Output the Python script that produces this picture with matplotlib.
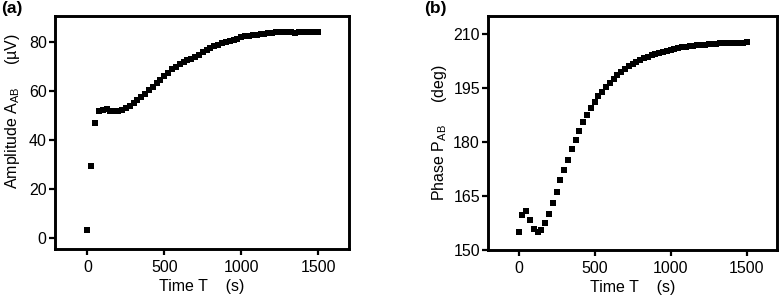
import numpy as np
import matplotlib
matplotlib.use("Agg")
import matplotlib.pyplot as plt

plt.rcParams['font.family'] = ['Liberation Sans', 'DejaVu Sans']
plt.rcParams['mathtext.default'] = 'regular'

# time axis, one point every 25 s
time_s = np.arange(0, 1501, 25)

# amplitude A_AB (uV)
amplitude = [3.4, 29.2, 46.9, 52.0, 52.4, 52.5, 52.0, 51.7, 51.8, 52.2,
             52.9, 53.9, 55.0, 56.2, 57.4, 58.9, 60.3, 61.7, 63.2, 64.5,
             65.9, 67.4, 68.8, 69.8, 70.8, 71.7, 72.5, 73.2, 74.0, 74.8,
             75.8, 76.6, 77.4, 78.2, 78.9, 79.5, 79.9, 80.4, 80.9, 81.3,
             81.8, 82.2, 82.6, 82.8, 82.9, 83.1, 83.4, 83.6, 83.8, 84.0,
             84.1, 84.2, 84.1, 84.0, 83.8, 83.9, 84.1, 84.2, 84.2, 84.2,
             84.2]

# phase P_AB (deg)
phase = [155.1, 159.7, 160.9, 158.4, 155.8, 154.9, 155.6, 157.4, 160.0, 163.1,
         166.0, 169.5, 172.3, 175.1, 178.0, 180.7, 183.1, 185.5, 187.6, 189.6,
         191.2, 192.7, 194.0, 195.2, 196.5, 197.6, 198.6, 199.5, 200.3, 201.1,
         201.7, 202.3, 202.8, 203.3, 203.7, 204.1, 204.5, 204.8, 205.1, 205.4,
         205.7, 205.9, 206.1, 206.3, 206.5, 206.7, 206.8, 206.9, 207.0, 207.1,
         207.2, 207.3, 207.35, 207.4, 207.45, 207.5, 207.5, 207.55, 207.6, 207.6,
         207.7]

xticks = [0, 500, 1000, 1500]
amp_ticks = [0, 20, 40, 60, 80]
phase_ticks = [150, 165, 180, 195, 210]

fig = plt.figure(figsize=(7.8, 2.99), dpi=100)
ax1 = fig.add_axes([0.0705, 0.167, 0.377, 0.779])
ax2 = fig.add_axes([0.626, 0.164, 0.370, 0.782])

def style(ax):
    for s in ax.spines.values():
        s.set_linewidth(2.1)
    ax.tick_params(direction='out', length=4, width=1.6, labelsize=11.5,
                   top=False, right=False, pad=2)
    ax.tick_params(axis='x', pad=4)

ax1.plot(time_s, amplitude, 's', color='black', ms=4.3, mew=0)
ax1.set_xlim(-210, 1700)
ax1.set_ylim(-4.5, 90.5)
ax1.set_xticks(xticks)
ax1.set_yticks(amp_ticks)
ax1.set_xlabel('Time T    (s)', fontsize=11.5, labelpad=3)
ax1.set_ylabel('Amplitude A$_{AB}$     (µV)', fontsize=11.5, labelpad=3)
ax1.yaxis.set_label_coords(-0.112, 0.59)
style(ax1)

ax2.plot(time_s, phase, 's', color='black', ms=4.3, mew=0)
ax2.set_xlim(-200, 1700)
ax2.set_ylim(150, 215)
ax2.set_xticks(xticks)
ax2.set_yticks(phase_ticks)
ax2.set_xlabel('Time T    (s)', fontsize=11.5, labelpad=3)
ax2.set_ylabel('Phase P$_{AB}$     (deg)', fontsize=11.5, labelpad=3)
style(ax2)

fig.text(0.001, 0.997, '(a)', fontsize=12.5, fontweight='bold', va='top', ha='left')
fig.text(0.544, 0.997, '(b)', fontsize=12.5, fontweight='bold', va='top', ha='left')

fig.savefig('out.png', dpi=100)
